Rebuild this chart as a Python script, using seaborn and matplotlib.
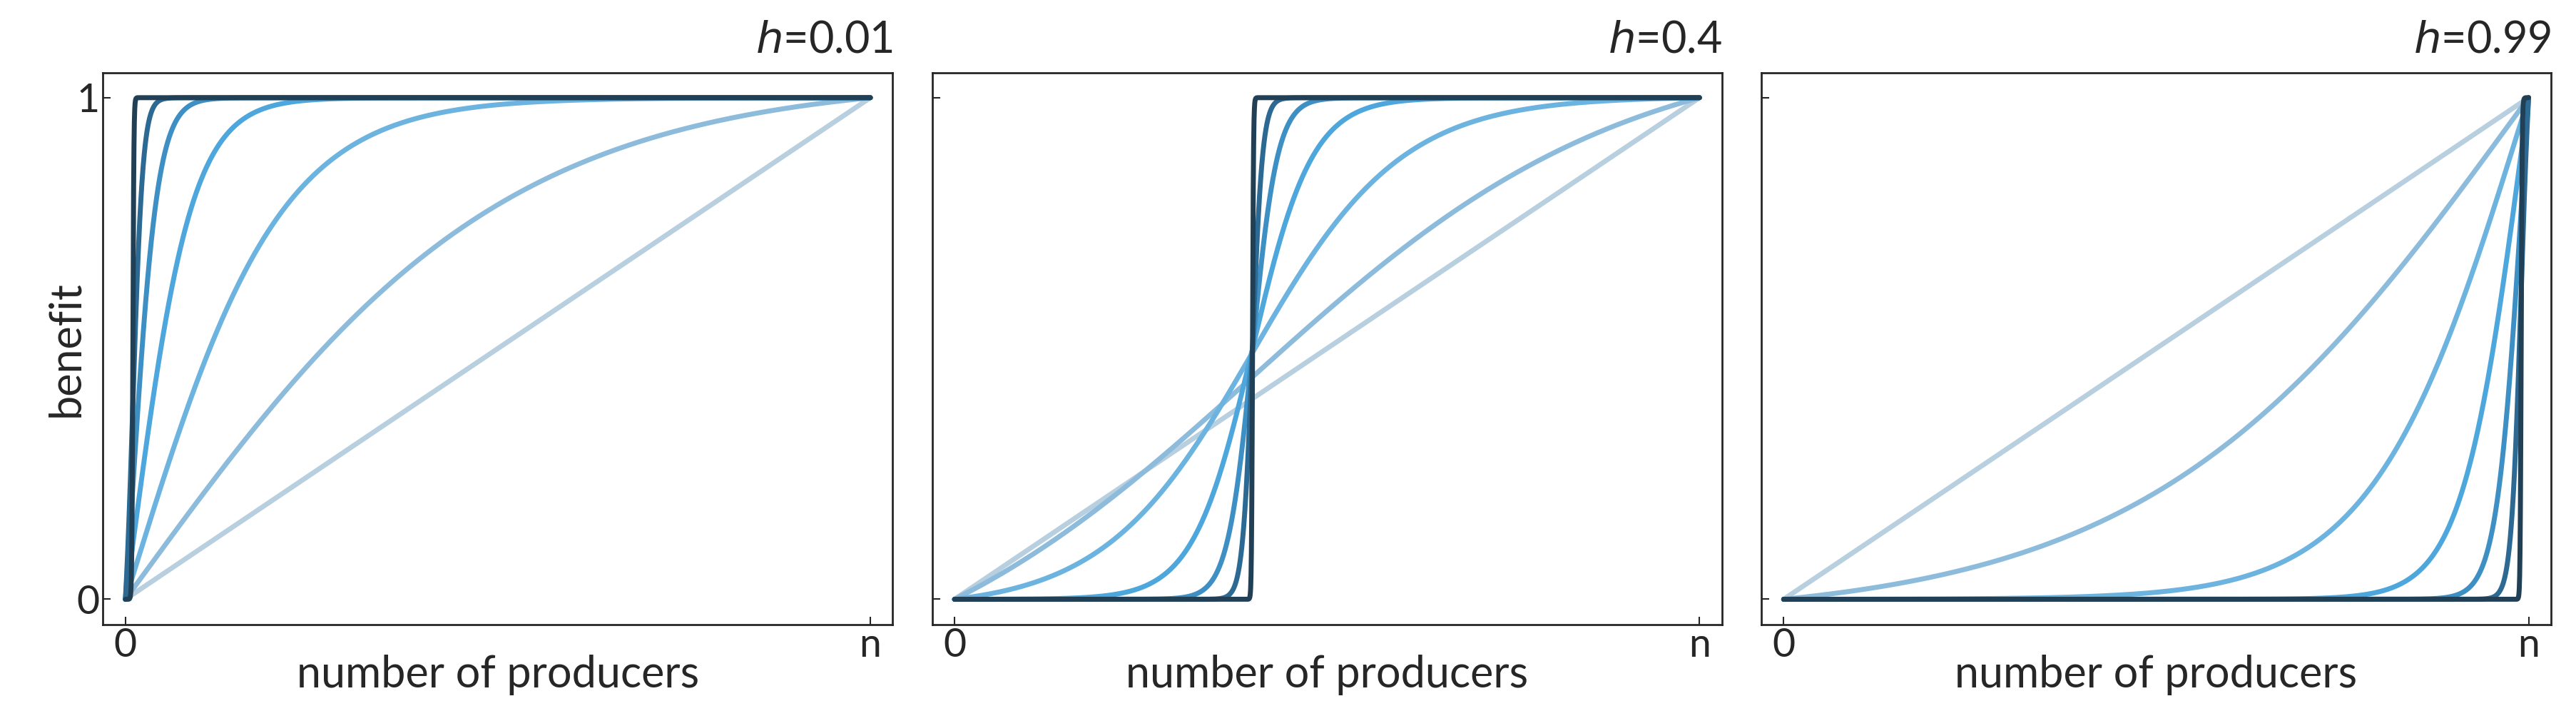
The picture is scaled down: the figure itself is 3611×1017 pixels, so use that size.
import numpy as np
import pandas as pd
import matplotlib
matplotlib.use("Agg")
import matplotlib.pyplot as plt
import seaborn as sns

# panel thresholds and curve steepness values (light -> dark)
h_values = [0.01, 0.4, 0.99]
steepness = [0.01, 4, 10, 25, 60, 150, 1500]
colors = ["#b7cfdf", "#8dbbdc", "#6cb3e0", "#4ea7dc", "#3d8fc4", "#2c6a93", "#213f55"]
x_ticklabels = ["0", "n"]
y_ticklabels = ["0", "1"]

sns.set_theme(style="ticks")
plt.rcParams["font.family"] = ["Lato", "DejaVu Sans"]


def benefit(x, h, s):
    f = lambda t: 1.0 / (1.0 + np.exp(-s * (t - h)))
    return (f(x) - f(0.0)) / (f(1.0) - f(0.0))


x = np.linspace(0, 1, 4001)
rows = []
for h in h_values:
    for i, s in enumerate(steepness):
        rows.append(pd.DataFrame({"x": x, "y": benefit(x, h, s), "h": h, "k": i}))
df = pd.concat(rows)

fig, axes = plt.subplots(1, 3, figsize=(36.12, 10.17), dpi=100)
for j, (ax, h) in enumerate(zip(axes, h_values)):
    sub = df[df["h"] == h]
    sns.lineplot(data=sub, x="x", y="y", hue="k", palette=colors, ax=ax,
                 linewidth=5, legend=False)
    ax.set_xlim(-0.03, 1.03)
    ax.set_ylim(-0.05, 1.05)
    ax.set_xticks([0, 1])
    ax.set_xticklabels(x_ticklabels)
    ax.set_yticks([0, 1])
    ax.set_yticklabels(y_ticklabels if j == 0 else [])
    ax.tick_params(labelsize=40, length=8, width=1.5, direction="in")
    ax.set_xlabel("number of producers", fontsize=44, labelpad=-10)
    ax.set_ylabel("benefit" if j == 0 else "", fontsize=44, labelpad=-10)
    for sp in ax.spines.values():
        sp.set_linewidth(2)
    ax.set_title(f"$h$={h}", loc="right", fontsize=44, pad=20)

plt.subplots_adjust(left=0.04, right=0.99, bottom=0.14, top=0.9, wspace=0.05)
fig.savefig("out.png", dpi=100)
